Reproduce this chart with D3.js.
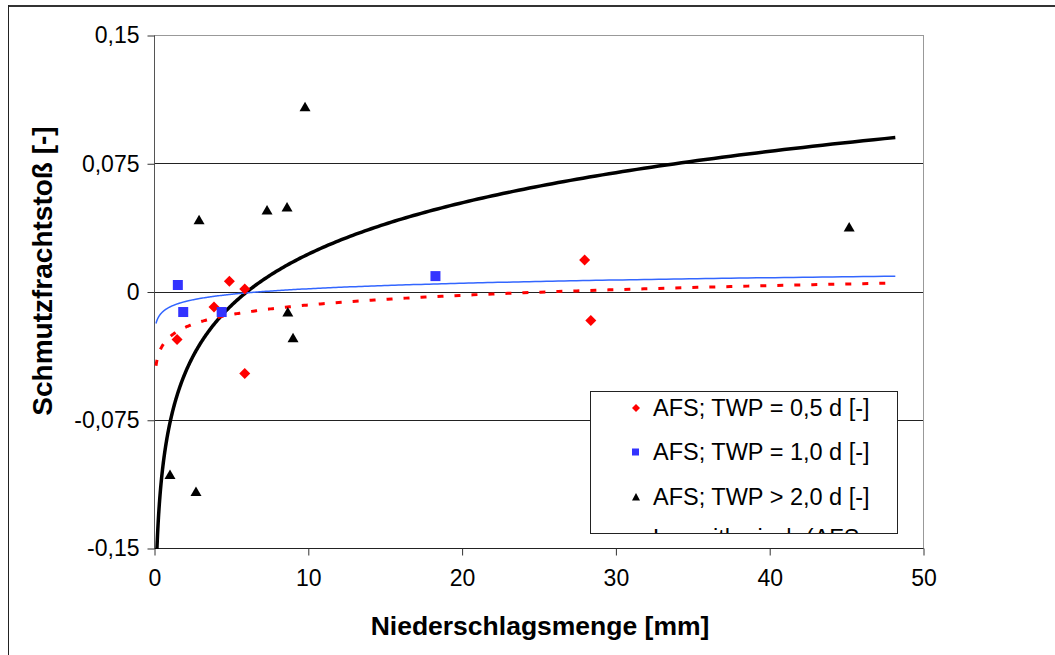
<!DOCTYPE html>
<html><head><meta charset="utf-8">
<script src="https://cdn.jsdelivr.net/npm/d3@7"></script>
<style>
html,body{margin:0;padding:0;background:#fff;}
svg{display:block;font-family:Arial,"Liberation Sans",sans-serif;}
</style></head>
<body>
<svg id="chart" width="1055" height="655"></svg>
<script>
// ---- data ----
const xTicks = [0, 10, 20, 30, 40, 50];
const yTicks = [-0.15, -0.075, 0, 0.075, 0.15];
const yTickLabels = ["-0,15", "-0,075", "0", "0,075", "0,15"];

// legend entries (the trendline entry is cut off by the legend box in the original)
const seriesNames = ["AFS; TWP = 0,5 d [-]", "AFS; TWP = 1,0 d [-]", "AFS; TWP > 2,0 d [-]", "Logarithmisch (AFS;"];

const redX = [1.5, 3.9, 4.9, 5.9, 5.9, 28.0, 28.4];
const redY = [-0.028, -0.009, 0.006, 0.0015, -0.048, 0.0184, -0.017];

const blueX = [1.55, 1.9, 4.4, 18.3];
const blueY = [0.0038, -0.012, -0.012, 0.009];

const blackX = [1.04, 2.73, 2.93, 7.35, 8.65, 9.82, 8.7, 9.04, 45.2];
const blackY = [-0.107, -0.117, 0.042, 0.0477, 0.0494, 0.108, -0.012, -0.027, 0.0377];

const trendRange = [0.13, 48.2];

// ---- layout ----
const svg = d3.select("#chart");
const L = 154, R = 923, T = 35, B = 548;
const x = d3.scaleLinear().domain([0, 50]).range([L, R]);
const y = d3.scaleLinear().domain([-0.15, 0.15]).range([B, T]);

// outer frame
svg.append("line").attr("x1", 8).attr("x2", 1060).attr("y1", 6).attr("y2", 6).attr("stroke", "#333").attr("stroke-width", 2);
svg.append("line").attr("x1", 8.5).attr("x2", 8.5).attr("y1", 5).attr("y2", 660).attr("stroke", "#222").attr("stroke-width", 1);

// plot area border (gray)
svg.append("rect").attr("x", L + 0.5).attr("y", T + 0.5).attr("width", R - L).attr("height", B - T)
  .attr("fill", "#fff").attr("stroke", "#999").attr("stroke-width", 1);

// gridlines
svg.append("g").selectAll("line").data(yTicks.filter(d => d > -0.15 && d < 0.15)).join("line")
  .attr("x1", L).attr("x2", R).attr("y1", d => Math.round(y(d)) + 0.5).attr("y2", d => Math.round(y(d)) + 0.5)
  .attr("stroke", "#222").attr("stroke-width", 1);

// axes
const yAxis = d3.axisLeft(y).tickValues(yTicks).tickFormat((d, i) => yTickLabels[i]).tickSize(7).tickPadding(8);
const gy = svg.append("g").attr("transform", `translate(${L + 0.5},0.5)`).call(yAxis);
gy.select(".domain").attr("stroke", "#555").attr("d", `M0,${T}V${B}`);
gy.selectAll(".tick line").attr("stroke", "#333");
gy.selectAll("text").attr("font-size", 23).attr("fill", "#000").attr("font-family", "Arial, 'Liberation Sans', sans-serif");

const xAxis = d3.axisBottom(x).tickValues(xTicks).tickSize(7).tickPadding(14);
const gx = svg.append("g").attr("transform", `translate(0.5,${B + 0.5})`).call(xAxis);
gx.select(".domain").attr("stroke", "#222").attr("d", `M${L},0H${R}`);
gx.selectAll(".tick line").attr("stroke", "#333");
gx.selectAll("text").attr("font-size", 23).attr("fill", "#000").attr("font-family", "Arial, 'Liberation Sans', sans-serif");

// clip for plot
svg.append("clipPath").attr("id", "plotclip").append("rect").attr("x", L).attr("y", T).attr("width", R - L).attr("height", B - T + 1);

// log regression (least squares on ln x), as the trendlines in the original
function logFit(xs, ys) {
  const lx = xs.map(Math.log);
  const mx = d3.mean(lx), my = d3.mean(ys);
  let sxy = 0, sxx = 0;
  lx.forEach((v, i) => { sxy += (v - mx) * (ys[i] - my); sxx += (v - mx) * (v - mx); });
  const a = sxy / sxx, b = my - a * mx;
  return v => a * Math.log(v) + b;
}
const samples = d3.range(0, 401).map(i => Math.exp(Math.log(trendRange[0]) + i / 400 * (Math.log(trendRange[1]) - Math.log(trendRange[0]))));
const line = d3.line().x(d => x(d[0])).y(d => y(d[1]));

const trends = svg.append("g").attr("clip-path", "url(#plotclip)");
const fRed = logFit(redX, redY), fBlue = logFit(blueX, blueY), fBlack = logFit(blackX, blackY);

trends.append("path").attr("d", line(samples.map(v => [v, fBlack(v)])))
  .attr("fill", "none").attr("stroke", "#000").attr("stroke-width", 3.5);
trends.append("path").attr("d", line(samples.map(v => [v, fBlue(v)])))
  .attr("fill", "none").attr("stroke", "#3366ff").attr("stroke-width", 1.5);
trends.append("path").attr("d", line(samples.map(v => [v, fRed(v)])))
  .attr("fill", "none").attr("stroke", "#ff0000").attr("stroke-width", 3).attr("stroke-dasharray", "6,11");

// markers
const pts = svg.append("g");
pts.selectAll(".red").data(redX.map((v, i) => [v, redY[i]])).join("path")
  .attr("d", "M0,-5.5L5.5,0L0,5.5L-5.5,0Z")
  .attr("transform", d => `translate(${x(d[0])},${y(d[1])})`)
  .attr("fill", "#ff0000");
pts.selectAll(".blue").data(blueX.map((v, i) => [v, blueY[i]])).join("rect")
  .attr("x", d => x(d[0]) - 5).attr("y", d => y(d[1]) - 5).attr("width", 10).attr("height", 10)
  .attr("fill", "#3333ff");
pts.selectAll(".black").data(blackX.map((v, i) => [v, blackY[i]])).join("path")
  .attr("d", "M0,-5L5.5,4.5L-5.5,4.5Z")
  .attr("transform", d => `translate(${x(d[0])},${y(d[1])})`)
  .attr("fill", "#000");

// legend
const lg = svg.append("g");
svg.append("clipPath").attr("id", "legclip").append("rect").attr("x", 590).attr("y", 391).attr("width", 307).attr("height", 142);
lg.append("rect").attr("x", 590.5).attr("y", 391.5).attr("width", 307).attr("height", 142)
  .attr("fill", "#fff").attr("stroke", "#222").attr("stroke-width", 1);
const li = lg.append("g").attr("clip-path", "url(#legclip)");
const rowY = [408, 452, 497, 538];
li.append("path").attr("d", "M0,-4L4,0L0,4L-4,0Z").attr("transform", `translate(636,${rowY[0]})`).attr("fill", "#ff0000");
li.append("rect").attr("x", 632).attr("y", rowY[1] - 3.5).attr("width", 7).attr("height", 7).attr("fill", "#3333ff");
li.append("path").attr("d", "M0,-4L4,3.5L-4,3.5Z").attr("transform", `translate(636,${rowY[2]})`).attr("fill", "#000");
li.append("line").attr("x1", 616).attr("x2", 648).attr("y1", rowY[3] + 14).attr("y2", rowY[3] + 14)
  .attr("stroke", "#ff0000").attr("stroke-width", 3).attr("stroke-dasharray", "6,5");
li.selectAll("text.s").data(seriesNames).join("text").attr("class", "s")
  .attr("x", 653).attr("y", (d, i) => rowY[i] + 8)
  .attr("font-size", 23.5).attr("fill", "#000").text(d => d);

// axis titles
svg.append("text").attr("x", 540).attr("y", 635).attr("text-anchor", "middle")
  .attr("font-size", 26.5).attr("font-weight", "bold").text("Niederschlagsmenge [mm]");
svg.append("text").attr("transform", "translate(52,271) rotate(-90)").attr("text-anchor", "middle")
  .attr("font-size", 28).attr("font-weight", "bold").text("Schmutzfrachtstoß [-]");
</script>
</body></html>
